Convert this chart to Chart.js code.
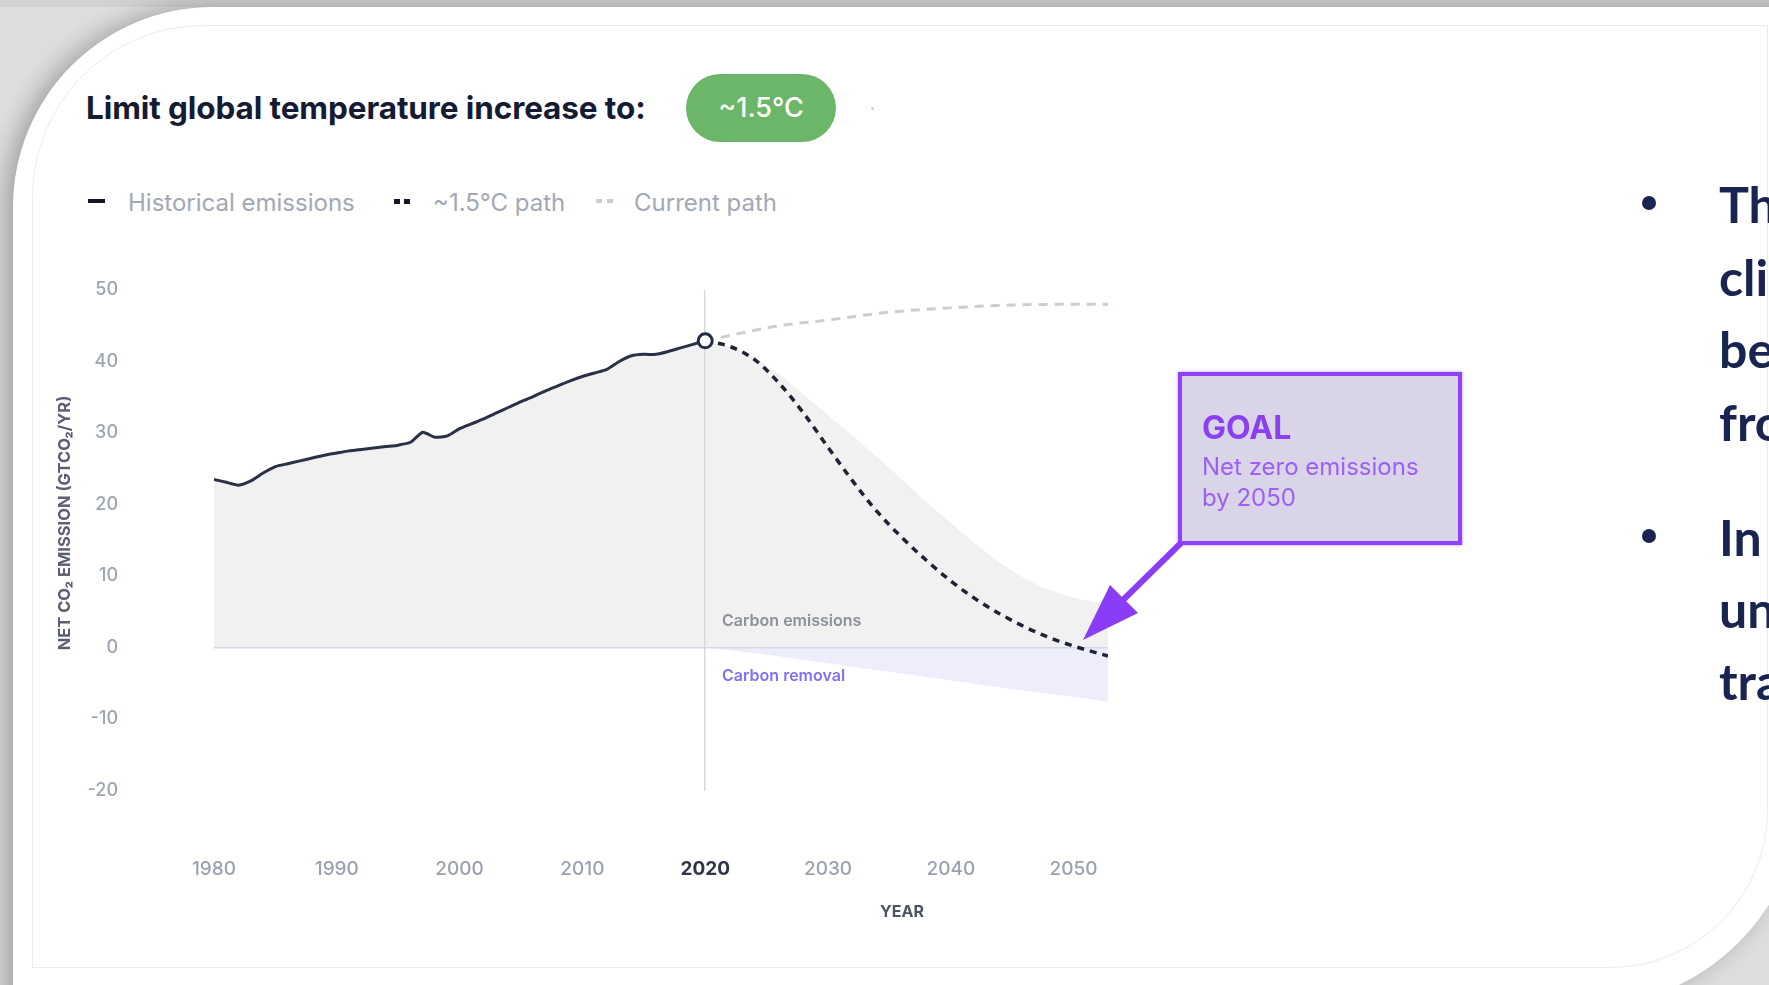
<!DOCTYPE html>
<html>
<head>
<meta charset="utf-8">
<script src="https://cdn.jsdelivr.net/npm/chart.js@4.4.1/dist/chart.umd.min.js"></script>
<style>
body{margin:0;width:1769px;height:985px;overflow:hidden;background:#dedede;position:relative;font-family:Inter,sans-serif;}
.abs{position:absolute;white-space:nowrap;}
.topband{left:0;top:0;width:1769px;height:7px;background:#d2d2d2;}
.card{left:13px;top:7px;width:1790px;height:1000px;background:#fff;border-top-left-radius:200px;border-bottom-right-radius:220px;box-shadow:-8px 0 24px rgba(0,0,0,.28);}
.inner{left:32px;top:25px;width:1734px;height:941px;border:1px solid #ececec;border-top-left-radius:172px;border-bottom-right-radius:158px;}
#c{position:absolute;left:0;top:0;}
.title{left:86px;top:92px;font-size:31.5px;line-height:31.5px;font-weight:700;color:#151b32;letter-spacing:-0.1px;}
.pill{left:686px;top:74px;width:150px;height:68px;border-radius:34px;background:#6cb66a;color:#fff;font-size:27px;line-height:68px;text-align:center;font-weight:500;}
.speck{left:871px;top:107px;width:3px;height:3px;border-radius:2px;background:#cfd2d6;}
.leg{top:191px;font-size:24px;line-height:24px;color:#a2a8b4;}
.mk{height:4px;background:#141824;top:199px;}
.ytitle{left:-86px;top:513px;width:300px;height:20px;line-height:20px;text-align:center;font-size:16.5px;font-weight:700;color:#5a6070;transform:rotate(-90deg);}
.xtitle{left:852px;top:901px;width:100px;text-align:center;font-size:16px;line-height:20px;font-weight:700;color:#4d5361;}
.note{font-size:16px;line-height:20px;font-weight:600;}
.goal{left:1178px;top:372px;width:284px;height:173px;box-sizing:border-box;border:4px solid #8f44fb;background:#d9d4e8;box-shadow:0 0 3px #b48cff;}
.gtxt{color:#9d5ff5;font-size:24px;line-height:24px;}
.rt{left:1719px;font-family:Lato,sans-serif;font-weight:700;font-size:50px;line-height:50px;color:#1a2451;}
.dot{left:1642px;width:14px;height:14px;border-radius:7px;background:#1a2451;}
</style>
</head>
<body>
<div class="abs topband"></div>
<div class="abs card"></div>
<div class="abs inner"></div>

<div class="abs title">Limit global temperature increase to:</div>
<div class="abs pill">~1.5°C</div>
<div class="abs speck"></div>

<div class="abs mk" style="left:88px;width:17px"></div>
<div class="abs leg" style="left:128px">Historical emissions</div>
<div class="abs mk" style="left:394px;width:6px;height:5px"></div>
<div class="abs mk" style="left:404px;width:6px;height:5px"></div>
<div class="abs leg" style="left:433px">~1.5°C path</div>
<div class="abs mk" style="left:596px;width:6px;height:4px;background:#c9cdd5"></div>
<div class="abs mk" style="left:607px;width:6px;height:4px;background:#c9cdd5"></div>
<div class="abs leg" style="left:634px">Current path</div>

<canvas id="c" width="1769" height="985"></canvas>

<div class="abs ytitle">NET CO₂ EMISSION (GTCO₂/YR)</div>
<div class="abs xtitle">YEAR</div>
<div class="abs note" style="left:722px;top:610px;color:#8c909a">Carbon emissions</div>
<div class="abs note" style="left:722px;top:665px;color:#7f71f2">Carbon removal</div>

<div class="abs goal"></div>
<div class="abs" style="left:1202px;top:412px;font-size:32px;line-height:32px;font-weight:700;color:#8a3ff0">GOAL</div>
<div class="abs gtxt" style="left:1202px;top:455px">Net zero emissions</div>
<div class="abs gtxt" style="left:1202px;top:486px">by 2050</div>

<svg class="abs" style="left:0;top:0" width="1769" height="985">
  <line x1="1181" y1="543" x2="1122" y2="601" stroke="#8b3cf7" stroke-width="6"/>
  <polygon points="1083,640 1110,585 1138,613" fill="#8b3cf7"/>
</svg>

<div class="abs dot" style="top:196px"></div>
<div class="abs rt" style="top:179px">The</div>
<div class="abs rt" style="top:252px">climate</div>
<div class="abs rt" style="top:324px">between</div>
<div class="abs rt" style="top:397px">from</div>
<div class="abs dot" style="top:529px"></div>
<div class="abs rt" style="top:512px">In order</div>
<div class="abs rt" style="top:584px">under</div>
<div class="abs rt" style="top:656px">transition</div>

<script>
// historical emissions, GtCO2 per year
let histYears = [1980,1981,1982,1983,1984,1985,1986,1987,1988,1989,
                 1990,1991,1992,1993,1994,1995,1996,1997,1998,1999,
                 2000,2001,2002,2003,2004,2005,2006,2007,2008,2009,
                 2010,2011,2012,2013,2014,2015,2016,2017,2018,2019,2020];
let histValues = [23.5,23.1,22.7,23.3,24.4,25.3,25.7,26.1,26.5,26.9,
                  27.2,27.5,27.7,27.9,28.1,28.3,28.7,30.1,29.4,29.6,
                  30.6,31.3,32.0,32.8,33.6,34.4,35.1,35.9,36.6,37.3,
                  37.9,38.4,38.9,40.0,40.8,41.0,41.0,41.4,41.9,42.4,42.9];

// ~1.5C path
let pathYears  = [2020,2022,2024,2026,2028,2030,2032,2034,2036,2038,2040,2042,2044,2046,2048,2050,2052.8];
let pathValues = [42.9,42.1,40.3,37.0,32.8,28.0,23.3,19.0,15.4,12.2,9.3,6.8,4.7,2.9,1.4,0.2,-1.2];

// current path
let currYears  = [2020,2023,2026,2030,2035,2040,2045,2050,2052.8];
let currValues = [42.9,44.0,45.0,45.8,46.9,47.5,47.9,48.0,48.0];

// carbon emissions band (upper edge of grey area)
let bandYears  = [2020,2022,2024,2026,2028,2030,2032,2034,2036,2038,2040,2042,2044,2046,2048,2050,2052.8];
let bandValues = [42.9,42.1,40.6,38.2,35.4,32.5,29.6,26.6,23.5,20.4,17.4,14.5,11.9,9.7,8.1,7.0,6.0];

// carbon removal (lower edge)
let removalYears  = [2020,2025,2030,2035,2040,2045,2050,2052.8];
let removalValues = [0,-1.0,-2.2,-3.4,-4.6,-5.8,-6.9,-7.6];

let xTicks = [1980,1990,2000,2010,2020,2030,2040,2050];
let yTicks = [-20,-10,0,10,20,30,40,50];

function pts(xs, ys){
    return xs.map((x,i)=>({x:x, y:ys[i]}));
}

new Chart(document.getElementById("c"),{
    type:"line",
    data:{
        datasets:[
            {data:pts([2020],[42.9]), pointRadius:7, pointBorderWidth:3,
             pointBackgroundColor:"#fff", pointBorderColor:"#262c40", showLine:false},
            {data:pts(histYears,histValues), borderColor:"#2a3046", borderWidth:3,
             tension:0.2, pointRadius:0, fill:"origin", backgroundColor:"#f1f1f2"},
            {data:pts(pathYears,pathValues), borderColor:"#1e2233", borderWidth:3.5,
             borderDash:[7,6], cubicInterpolationMode:"monotone", pointRadius:0, fill:false},
            {data:pts(currYears,currValues), borderColor:"#c9cdd5", borderWidth:3,
             borderDash:[9,7], cubicInterpolationMode:"monotone", pointRadius:0, fill:false},
            {data:pts(bandYears,bandValues), borderColor:"transparent", borderWidth:0,
             cubicInterpolationMode:"monotone", pointRadius:0, fill:"origin", backgroundColor:"#f1f1f2"},
            {data:pts(removalYears,removalValues), borderColor:"transparent", borderWidth:0,
             tension:0.3, pointRadius:0, fill:"origin", backgroundColor:"#ededfb"}
        ]
    },
    options:{
        responsive:false,
        animation:false,
        devicePixelRatio:1,
        layout:{padding:{left:0, top:290, right:661, bottom:94.5}},
        plugins:{legend:{display:false}, tooltip:{enabled:false}, filler:{drawTime:"beforeDraw"}},
        scales:{
            x:{
                type:"linear", min:1980, max:2052.8,
                afterFit:s=>{ s.height = 100; },
                afterBuildTicks:s=>{ s.ticks = xTicks.map(v=>({value:v})); },
                border:{display:false},
                grid:{drawTicks:false, lineWidth:1.5,
                      color:c=> c.tick && c.tick.value===2020 ? "#d6d9e1" : "transparent"},
                ticks:{
                    padding:67,
                    callback:v=>String(v),
                    color:c=> c.tick && c.tick.value===2020 ? "#2f3545" : "#9ba1ad",
                    font:c=>({family:"Inter", size:19, weight: c.tick && c.tick.value===2020 ? "700" : "500"})
                }
            },
            y:{
                min:-20, max:50,
                afterFit:s=>{ s.width = 214; },
                afterBuildTicks:s=>{ s.ticks = yTicks.map(v=>({value:v})); },
                border:{display:false},
                grid:{drawTicks:false, lineWidth:1.5,
                      color:c=> c.tick && c.tick.value===0 ? "#d3d9e6" : "transparent"},
                ticks:{padding:96, color:"#9ea4b0", font:{family:"Inter", size:18, weight:"500"}}
            }
        }
    }
});
</script>
</body>
</html>
